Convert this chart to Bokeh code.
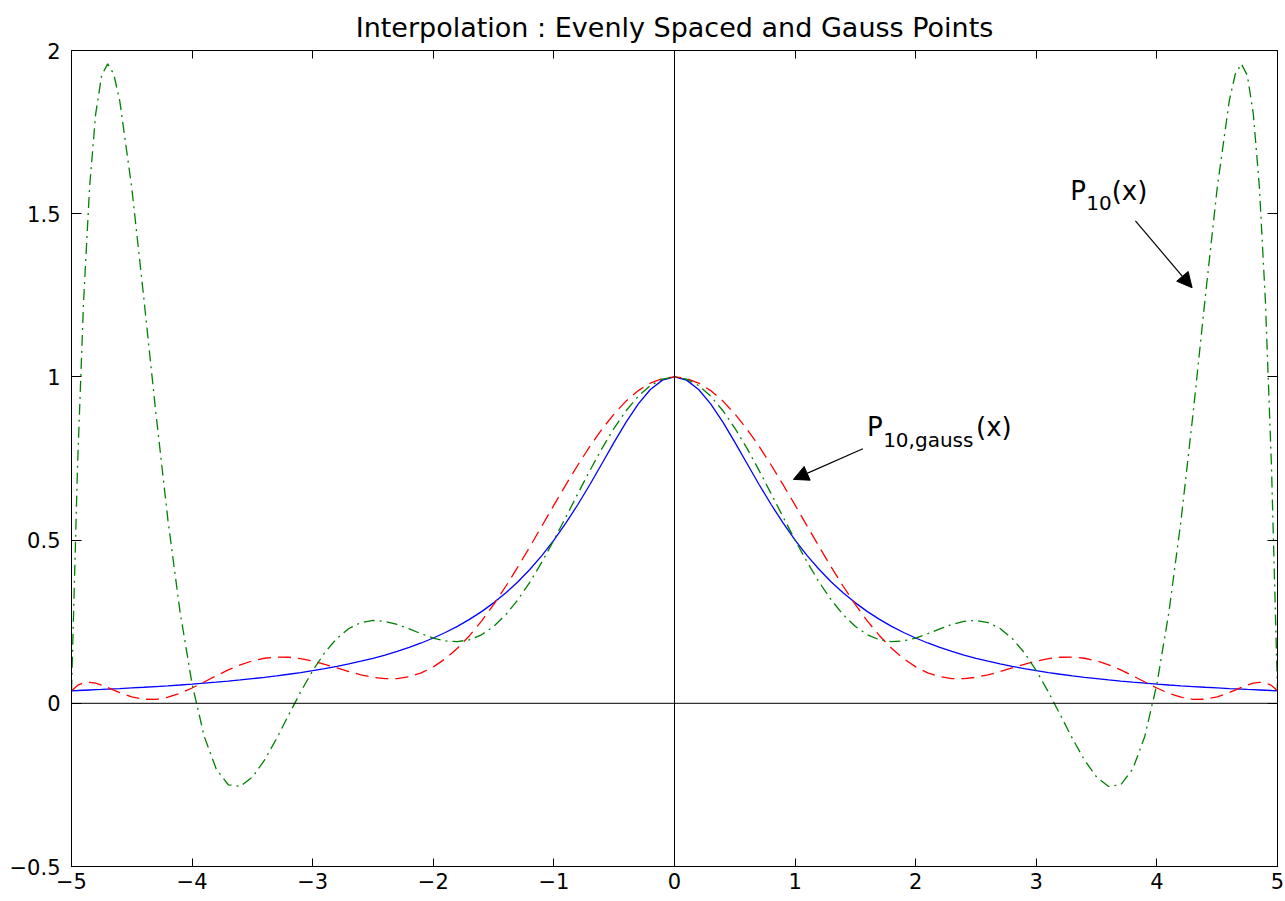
from bokeh.plotting import figure
from bokeh.models import Range1d, LinearAxis, Span, Label, Arrow, NormalHead, FixedTicker
from bokeh.embed import file_html
from bokeh.resources import INLINE

# ---- data ----
x_vals = [-5.0, -4.95, -4.9, -4.85, -4.8, -4.75, -4.7, -4.65, -4.6, -4.5, -4.4, -4.3, -4.2, -4.1,
          -4.0, -3.9, -3.8, -3.7, -3.6, -3.5, -3.4, -3.3, -3.2, -3.1, -3.0, -2.9, -2.8, -2.7,
          -2.6, -2.5, -2.4, -2.3, -2.2, -2.1, -2.0, -1.9, -1.8, -1.7, -1.6, -1.5, -1.4, -1.3,
          -1.2, -1.1, -1.0, -0.9, -0.8, -0.7, -0.6, -0.5, -0.4, -0.3, -0.2, -0.1,
          0.0,
          0.1, 0.2, 0.3, 0.4, 0.5, 0.6, 0.7, 0.8, 0.9, 1.0, 1.1, 1.2, 1.3, 1.4, 1.5, 1.6, 1.7,
          1.8, 1.9, 2.0, 2.1, 2.2, 2.3, 2.4, 2.5, 2.6, 2.7, 2.8, 2.9, 3.0, 3.1, 3.2, 3.3, 3.4,
          3.5, 3.6, 3.7, 3.8, 3.9, 4.0, 4.1, 4.2, 4.3, 4.4, 4.5, 4.6, 4.65, 4.7, 4.75, 4.8,
          4.85, 4.9, 4.95, 5.0]

# f(x) : solid blue
runge_vals = [0.0385, 0.0392, 0.0400, 0.0408, 0.0416, 0.0424, 0.0433, 0.0442, 0.0451, 0.0471,
              0.0491, 0.0513, 0.0536, 0.0561, 0.0588, 0.0617, 0.0648, 0.0681, 0.0716, 0.0755,
              0.0796, 0.0841, 0.0890, 0.0943, 0.1000, 0.1063, 0.1131, 0.1206, 0.1289, 0.1379,
              0.1479, 0.1590, 0.1712, 0.1848, 0.2000, 0.2169, 0.2358, 0.2571, 0.2809, 0.3077,
              0.3378, 0.3717, 0.4098, 0.4525, 0.5000, 0.5525, 0.6098, 0.6711, 0.7353, 0.8000,
              0.8621, 0.9174, 0.9615, 0.9901,
              1.0000,
              0.9901, 0.9615, 0.9174, 0.8621, 0.8000, 0.7353, 0.6711, 0.6098, 0.5525, 0.5000,
              0.4525, 0.4098, 0.3717, 0.3378, 0.3077, 0.2809, 0.2571, 0.2358, 0.2169, 0.2000,
              0.1848, 0.1712, 0.1590, 0.1479, 0.1379, 0.1289, 0.1206, 0.1131, 0.1063, 0.1000,
              0.0943, 0.0890, 0.0841, 0.0796, 0.0755, 0.0716, 0.0681, 0.0648, 0.0617, 0.0588,
              0.0561, 0.0536, 0.0513, 0.0491, 0.0471, 0.0451, 0.0442, 0.0433, 0.0424, 0.0416,
              0.0408, 0.0400, 0.0392, 0.0385]

# P10(x), evenly spaced points : green dash-dot
p10_even_vals = [0.0385, 0.7261, 1.2303, 1.5810, 1.8044, 1.9236, 1.9590, 1.9280, 1.8459, 1.5787,
                 1.2402, 0.8881, 0.5604, 0.2802, 0.0588, -0.1007, -0.2013, -0.2496, -0.2546, -0.2262,
                 -0.1743, -0.1083, -0.0363, 0.0349, 0.1000, 0.1554, 0.1987, 0.2292, 0.2472, 0.2538,
                 0.2510, 0.2415, 0.2278, 0.2131, 0.2000, 0.1912, 0.1888, 0.1946, 0.2099, 0.2354,
                 0.2710, 0.3165, 0.3708, 0.4326, 0.5000, 0.5710, 0.6432, 0.7142, 0.7818, 0.8434,
                 0.8971, 0.9409, 0.9734, 0.9933,
                 1.0000,
                 0.9933, 0.9734, 0.9409, 0.8971, 0.8434, 0.7818, 0.7142, 0.6432, 0.5710, 0.5000,
                 0.4326, 0.3708, 0.3165, 0.2710, 0.2354, 0.2099, 0.1946, 0.1888, 0.1912, 0.2000,
                 0.2131, 0.2278, 0.2415, 0.2510, 0.2538, 0.2472, 0.2292, 0.1987, 0.1554, 0.1000,
                 0.0349, -0.0363, -0.1083, -0.1743, -0.2262, -0.2546, -0.2496, -0.2013, -0.1007, 0.0588,
                 0.2802, 0.5604, 0.8881, 1.2402, 1.5787, 1.8459, 1.9280, 1.9590, 1.9236, 1.8044,
                 1.5810, 1.2303, 0.7261, 0.0385]

# P10,gauss(x) : red dashed
p10_gauss_vals = [0.0385, 0.0548, 0.0627, 0.0643, 0.0616, 0.0559, 0.0486, 0.0406, 0.0328, 0.0197,
                  0.0125, 0.0122, 0.0186, 0.0306, 0.0468, 0.0653, 0.0843, 0.1023, 0.1178, 0.1299,
                  0.1380, 0.1417, 0.1411, 0.1368, 0.1292, 0.1194, 0.1083, 0.0972, 0.0873, 0.0797,
                  0.0755, 0.0759, 0.0815, 0.0933, 0.1115, 0.1366, 0.1685, 0.2071, 0.2519, 0.3024,
                  0.3578, 0.4171, 0.4792, 0.5430, 0.6070, 0.6701, 0.7309, 0.7881, 0.8405, 0.8870,
                  0.9264, 0.9581, 0.9812, 0.9953,
                  1.0000,
                  0.9953, 0.9812, 0.9581, 0.9264, 0.8870, 0.8405, 0.7881, 0.7309, 0.6701, 0.6070,
                  0.5430, 0.4792, 0.4171, 0.3578, 0.3024, 0.2519, 0.2071, 0.1685, 0.1366, 0.1115,
                  0.0933, 0.0815, 0.0759, 0.0755, 0.0797, 0.0873, 0.0972, 0.1083, 0.1194, 0.1292,
                  0.1368, 0.1411, 0.1417, 0.1380, 0.1299, 0.1178, 0.1023, 0.0843, 0.0653, 0.0468,
                  0.0306, 0.0186, 0.0122, 0.0125, 0.0197, 0.0328, 0.0406, 0.0486, 0.0559, 0.0616,
                  0.0643, 0.0627, 0.0548, 0.0385]

x_ticks = [-5, -4, -3, -2, -1, 0, 1, 2, 3, 4, 5]
x_tick_labels = ["\u22125", "\u22124", "\u22123", "\u22122", "\u22121", "0", "1", "2", "3", "4", "5"]
y_ticks = [-0.5, 0, 0.5, 1, 1.5, 2]
y_tick_labels = ["\u22120.5", "0", "0.5", "1", "1.5", "2"]

title_text = "Interpolation : Evenly Spaced and Gauss Points"

FONT = "DejaVu Sans"

p = figure(width=1285, height=896, output_backend="svg", toolbar_location=None,
           x_range=Range1d(-5, 5), y_range=Range1d(-0.5, 2),
           min_border_left=71, min_border_right=8, min_border_top=50, min_border_bottom=30,
           title=title_text)
p.background_fill_color = "white"
p.border_fill_color = "white"
p.outline_line_color = "black"
p.outline_line_width = 1
p.grid.visible = False

p.title.text_font = FONT
p.title.text_font_size = "27px"
p.title.text_font_style = "normal"
p.title.text_color = "black"
p.title.align = "center"
p.title.standoff = 15

def style_axis(ax, ticks, labels, tick_in, standoff, show_labels=True):
    ax.ticker = FixedTicker(ticks=ticks)
    ax.major_label_overrides = dict(zip(ticks, labels))
    ax.axis_line_color = "black"
    ax.major_tick_line_color = "black"
    ax.major_tick_in = tick_in
    ax.major_tick_out = 0
    ax.minor_tick_line_color = None
    ax.major_label_standoff = standoff
    ax.major_label_text_font = FONT
    ax.major_label_text_color = "black"
    ax.major_label_text_font_size = "21px" if show_labels else "0px"

style_axis(p.xaxis[0], x_ticks, x_tick_labels, 8, 6)
style_axis(p.yaxis[0], y_ticks, y_tick_labels, 10, 11)

top_ax = LinearAxis()
style_axis(top_ax, x_ticks, [""] * len(x_ticks), 8, 0, show_labels=False)
p.add_layout(top_ax, "above")
right_ax = LinearAxis()
style_axis(right_ax, y_ticks, [""] * len(y_ticks), 10, 0, show_labels=False)
p.add_layout(right_ax, "right")

# zero lines
p.add_layout(Span(location=0, dimension="width", line_color="black", line_width=1))
p.add_layout(Span(location=0, dimension="height", line_color="black", line_width=1))

# curves
p.line(x_vals, runge_vals, line_color="#0000ff", line_width=1.3)
p.line(x_vals, p10_gauss_vals, line_color="#ff0000", line_width=1.3, line_dash="13 7")
p.line(x_vals, p10_even_vals, line_color="#008000", line_width=1.3, line_dash="11 5 2 5")

# annotations
def lab(x, y, text, size):
    p.add_layout(Label(x=x, y=y, text=text, text_font=FONT, text_font_size=size,
                       text_color="black", text_align="left", text_baseline="alphabetic"))

lab(3.282, 1.571, "P", "26px")
lab(3.415, 1.534, "10", "20px")
lab(3.625, 1.571, "(x)", "26px")

lab(1.597, 0.848, "P", "26px")
lab(1.730, 0.808, "10,gauss", "20px")
lab(2.500, 0.848, "(x)", "26px")

p.add_layout(Arrow(end=NormalHead(size=15, fill_color="black", line_color="black"),
                   x_start=3.822, y_start=1.478, x_end=4.292, y_end=1.273,
                   line_color="black", line_width=1.2))
p.add_layout(Arrow(end=NormalHead(size=15, fill_color="black", line_color="black"),
                   x_start=1.562, y_start=0.780, x_end=0.986, y_end=0.686,
                   line_color="black", line_width=1.2))

open("out.html", "w").write(file_html(p, INLINE))
